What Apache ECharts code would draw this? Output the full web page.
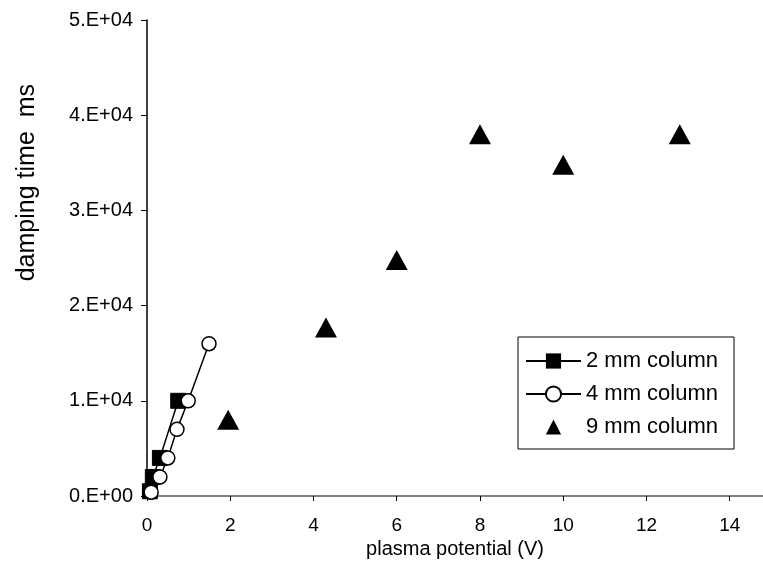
<!DOCTYPE html>
<html>
<head>
<meta charset="utf-8">
<script src="https://cdn.jsdelivr.net/npm/echarts@6/dist/echarts.min.js"></script>
<style>
html,body{margin:0;padding:0;background:#fff;}
#chart{width:763px;height:567px;}
</style>
</head>
<body>
<div id="chart"></div>
<script>
// ---- data ----
const seriesNames = ['2 mm column', '4 mm column', '9 mm column'];
const col2mmX = [0.07, 0.14, 0.31, 0.75];
const col2mmY = [500, 2000, 4000, 10000];
const col4mmX = [0.10, 0.31, 0.50, 0.72, 0.99, 1.49];
const col4mmY = [400, 2000, 4000, 7000, 10000, 16000];
const col9mmX = [1.95, 4.3, 6.0, 8.0, 10.0, 12.8];
const col9mmY = [8000, 17700, 24800, 38000, 34800, 38000];
const yTickValues = [0, 10000, 20000, 30000, 40000, 50000];
const yTickLabels = ['0.E+00', '1.E+04', '2.E+04', '3.E+04', '4.E+04', '5.E+04'];
const xTickLabels = ['0', '2', '4', '6', '8', '10', '12', '14'];

const zip = (xs, ys) => xs.map((x, i) => [x, ys[i]]);
const font = 'Liberation Sans, Arial, sans-serif';

const chart = echarts.init(document.getElementById('chart'), null, {renderer: 'canvas'});
chart.setOption({
  backgroundColor: '#ffffff',
  animation: false,
  textStyle: {fontFamily: font, color: '#000'},
  grid: {left: 147, right: 0, top: 20, bottom: 71, containLabel: false},
  xAxis: [{
    type: 'value', min: 0, max: 14.8, interval: 2,
    name: 'plasma potential (V)', nameLocation: 'middle', nameGap: 42,
    nameTextStyle: {fontSize: 20, color: '#000', fontFamily: font},
    axisLine: {show: true, onZero: false, lineStyle: {color: '#000', width: 1.5}},
    axisTick: {show: true, inside: false, length: 5, lineStyle: {color: '#000', width: 1}},
    axisLabel: {fontSize: 19, color: '#000', margin: 20, fontFamily: font,
      formatter: v => { const i = Math.round(v / 2); return (Math.abs(v - i*2) < 1e-9 && xTickLabels[i] !== undefined) ? xTickLabels[i] : ''; },
      showMaxLabel: false},
    splitLine: {show: false}
  }, {
    type: 'value', position: 'top', min: 0, max: 14.8,
    axisLine: {show: true, lineStyle: {color: '#808080', width: 2}},
    axisTick: {show: false}, axisLabel: {show: false}, splitLine: {show: false}
  }],
  yAxis: {
    type: 'value', min: 0, max: 50000, interval: 10000,
    axisLine: {show: true, onZero: false, lineStyle: {color: '#000', width: 1.5}},
    axisTick: {show: true, inside: false, length: 6, lineStyle: {color: '#000', width: 1}},
    axisLabel: {fontSize: 20, color: '#000', margin: 14, fontFamily: font,
      formatter: v => { const i = yTickValues.indexOf(v); return i >= 0 ? yTickLabels[i] : ''; }},
    splitLine: {show: false}
  },
  legend: {
    left: 518, top: 337, orient: 'vertical',
    padding: [13, 16, 11, 7],
    itemGap: 11,
    itemWidth: 55, itemHeight: 19,
    borderColor: '#000', borderWidth: 1, backgroundColor: '#fff',
    textStyle: {fontSize: 22, color: '#000', fontFamily: font},
    data: seriesNames
  },
  graphic: [{
    type: 'text', left: 15, top: 84, rotation: Math.PI / 2,
    style: {text: 'damping time  ms', fontSize: 25, fill: '#000', fontFamily: font}
  }],
  series: [{
    name: seriesNames[0], type: 'line', data: zip(col2mmX, col2mmY),
    symbol: 'rect', symbolSize: 15,
    lineStyle: {color: '#000', width: 1.5},
    itemStyle: {color: '#000', borderColor: '#000'}
  }, {
    name: seriesNames[1], type: 'line', data: zip(col4mmX, col4mmY),
    symbol: 'circle', symbolSize: 14, showAllSymbol: true,
    lineStyle: {color: '#000', width: 1.5},
    itemStyle: {color: '#fff', borderColor: '#000', borderWidth: 1.5}
  }, {
    name: seriesNames[2], type: 'line', data: zip(col9mmX, col9mmY),
    symbol: 'triangle', symbolSize: [22, 20], showAllSymbol: true,
    lineStyle: {opacity: 0, width: 0},
    itemStyle: {color: '#000'}
  }]
});
</script>
</body>
</html>
